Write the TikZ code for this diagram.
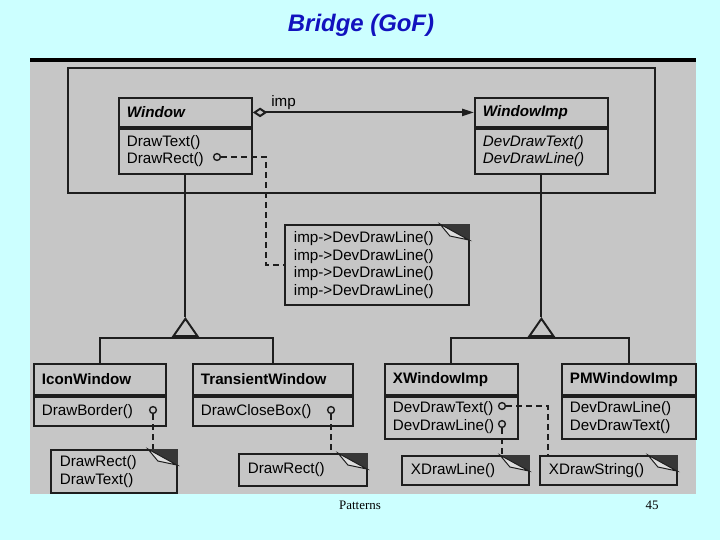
\documentclass[tikz,border=0pt]{standalone}
\usepackage{fontspec}
\setmainfont{Liberation Serif}
\setsansfont{Liberation Sans}
\usetikzlibrary{arrows.meta, positioning, calc}

\definecolor{slidebg}{RGB}{204,255,255}
\definecolor{scangray}{RGB}{198,198,198}
\definecolor{ink}{RGB}{30,30,30}
\definecolor{titleblue}{RGB}{18,18,190}
\definecolor{eargray}{RGB}{55,55,55}
\definecolor{flapgray}{RGB}{222,222,222}

\begin{document}
\begin{tikzpicture}[
  x=0.025cm, y=-0.025cm,
  umlfont/.style = {font=\sffamily\fontsize{10.8}{12.4}\selectfont},
  box/.style = {draw=ink, line width=1.3pt, anchor=north west, inner xsep=0.2cm, inner ysep=0pt, align=left, umlfont},
  cname/.style = {box, font=\sffamily\bfseries\fontsize{10.8}{12.4}\selectfont},
  aname/.style = {box, font=\sffamily\bfseries\itshape\fontsize{10.8}{12.4}\selectfont},
  note/.style = {box, inner xsep=0.225cm},
  port/.style = {circle, draw=ink, line width=1pt, inner sep=0pt, minimum size=0.17cm},
  umlline/.style = {draw=ink, line width=1.4pt},
  gen/.style = {umlline, -{Triangle[open, length=0.5cm, width=0.68cm]}},
  assoc/.style = {umlline, {Diamond[open, length=0.36cm, width=0.24cm]}-{Triangle[length=0.3cm, width=0.18cm]}},
  dashline/.style = {draw=ink, line width=1.4pt, dash pattern=on 1.5mm off 1mm}
]

  % slide and scanned figure
  \fill[slidebg] (0,0) rectangle (720,540);
  \useasboundingbox (0,0) rectangle (720,540);
  \node[font=\sffamily\bfseries\itshape\fontsize{17}{20}\selectfont, text=titleblue] (title) at (361,25) {Bridge (GoF)};
  \fill[black] (30,58) rectangle (696,62);
  \fill[scangray] (30,62) rectangle (696,494);
  \draw[umlline] (68,68) rectangle (655,193);

  % abstraction and implementor
  \node[aname, text width=2.925cm, minimum height=0.725cm] (win) at (118,97) {Window};
  \node[box, text width=2.925cm, minimum height=1.125cm] (winops) at (win.south west) {DrawText()\\DrawRect()};
  \node[aname, text width=2.925cm, minimum height=0.725cm] (wimp) at (474,97) {WindowImp};
  \node[box, text width=2.925cm, minimum height=1.125cm, font=\sffamily\itshape\fontsize{10.8}{12.4}\selectfont] (wimpops) at (wimp.south west) {DevDrawText()\\DevDrawLine()};

  \draw[assoc] (win.east) -- (wimp.west) node[pos=0, anchor=south west, inner sep=1pt, xshift=0.4cm, umlfont] {imp};

  % refined abstractions
  \node[cname, text width=2.9cm, minimum height=0.775cm] (icon) at (33,363) {IconWindow};
  \node[box, text width=2.9cm, minimum height=0.725cm] (iconops) at (icon.south west) {DrawBorder()};
  \node[cname, text width=3.6cm, minimum height=0.775cm] (trans) at (192,363) {TransientWindow};
  \node[box, text width=3.6cm, minimum height=0.725cm] (transops) at (trans.south west) {DrawCloseBox()};

  % concrete implementors
  \node[cname, text width=2.925cm, minimum height=0.775cm] (xwin) at (384,363) {XWindowImp};
  \node[box, text width=2.925cm, minimum height=1.05cm] (xwinops) at (xwin.south west) {DevDrawText()\\DevDrawLine()};
  \node[cname, text width=2.95cm, minimum height=0.775cm] (pmwin) at (561,363) {PMWindowImp};
  \node[box, text width=2.95cm, minimum height=1.05cm] (pmwinops) at (pmwin.south west) {DevDrawLine()\\DevDrawText()};

  % notes
  \node[note, text width=4.15cm, minimum height=2cm] (impnote) at (284,224) {imp->DevDrawLine()\\imp->DevDrawLine()\\imp->DevDrawLine()\\imp->DevDrawLine()};
  \node[note, text width=2.7cm, minimum height=1.075cm] (iconnote) at (50,449) {DrawRect()\\DrawText()};
  \node[note, text width=2.75cm, minimum height=0.8cm] (transnote) at (238,453) {DrawRect()};
  \node[note, text width=2.725cm, minimum height=0.725cm] (xlinenote) at (401,455) {XDrawLine()};
  \node[note, text width=2.975cm, minimum height=0.725cm] (xstrnote) at (539,455) {XDrawString()};

  \foreach \n in {impnote, iconnote, transnote, xlinenote, xstrnote} {
    \fill[eargray] ($(\n.north east)+(-30,0)$) -- (\n.north east) -- ($(\n.north east)+(0,17)$) -- cycle;
    \filldraw[fill=flapgray, draw=ink, line width=0.7pt] ($(\n.north east)+(-30,0)$) -- ($(\n.north east)+(-20,12)$) -- ($(\n.north east)+(-1,16)$) -- cycle;
  }

  % operation ports
  \node[port] (wdr) at (217,157) {};
  \node[port] (ibd) at (153,410) {};
  \node[port] (tcb) at (331,410) {};
  \node[port] (xdt) at (502,406) {};
  \node[port] (xdl) at (502,424) {};

  % inheritance
  \coordinate (winbar) at (winops.south |- 0,338);
  \coordinate (winapex) at (winops.south |- 0,317);
  \coordinate (impbar) at (wimpops.south |- 0,338);
  \coordinate (impapex) at (wimpops.south |- 0,317);
  \draw[umlline] (winops.south) -- (winapex);
  \draw[gen] (winbar) -- (winapex);
  \draw[umlline] (icon.north) |- (winbar) -| (trans.north);
  \draw[umlline] (wimpops.south) -- (impapex);
  \draw[gen] (impbar) -- (impapex);
  \draw[umlline] (xwin.north) |- (impbar) -| (pmwin.north);

  % implementation notes
  \draw[dashline] (wdr) -- ++(49,0) |- (impnote.west);
  \draw[dashline] (ibd) -- (ibd |- iconnote.north);
  \draw[dashline] (tcb) -- (tcb |- transnote.north);
  \draw[dashline] (xdl) -- (xdl |- xlinenote.north);
  \draw[dashline] (xdt) -| ($(xstrnote.north west)+(9,0)$);

  % footer
  \node[font=\rmfamily\fontsize{9.2}{11}\selectfont] (footer) at (360,505) {Patterns};
  \node[font=\rmfamily\fontsize{9.2}{11}\selectfont] (pageno) at (652,505) {45};

\end{tikzpicture}
\end{document}
